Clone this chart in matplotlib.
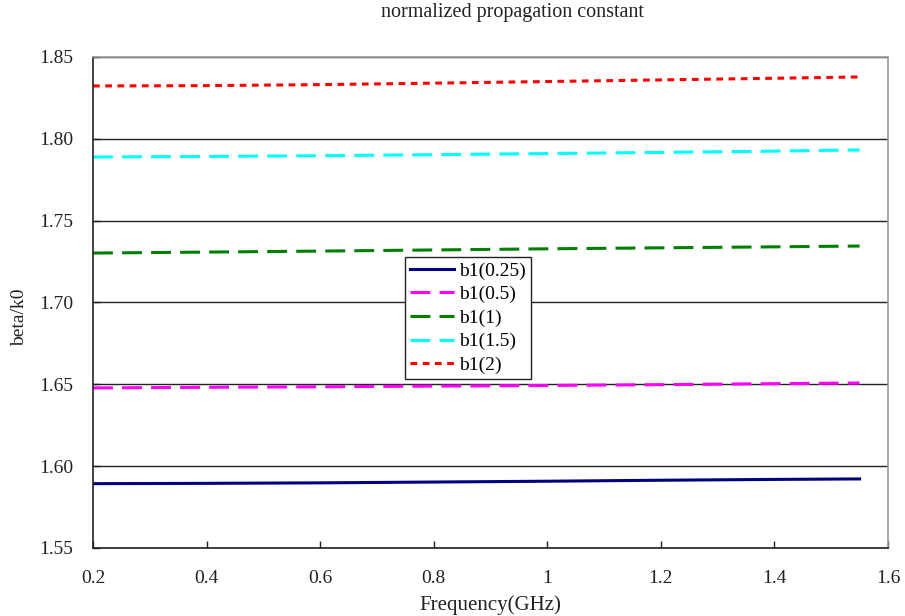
import matplotlib
matplotlib.use("Agg")
import matplotlib.pyplot as plt

plt.rcParams['font.family'] = ['Liberation Serif', 'DejaVu Serif']

freq = [0.2, 0.4, 0.6, 0.8, 1.0, 1.2, 1.4, 1.55]
b025 = [1.5893, 1.5895, 1.5898, 1.5903, 1.5908, 1.5914, 1.5919, 1.5922]
b05 = [1.6478, 1.6482, 1.6485, 1.6489, 1.6493, 1.6498, 1.6504, 1.6508]
b1 = [1.7302, 1.7308, 1.7314, 1.7321, 1.7328, 1.7334, 1.7340, 1.7345]
b15 = [1.7889, 1.7892, 1.7897, 1.7903, 1.7910, 1.7917, 1.7925, 1.7932]
b2 = [1.8323, 1.8325, 1.8331, 1.8340, 1.8350, 1.8360, 1.8370, 1.8378]

labels = ["b1(0.25)", "b1(0.5)", "b1(1)", "b1(1.5)", "b1(2)"]
xticks = [0.2, 0.4, 0.6, 0.8, 1.0, 1.2, 1.4, 1.6]
xtick_labels = ["0.2", "0.4", "0.6", "0.8", "1", "1.2", "1.4", "1.6"]
yticks = [1.55, 1.60, 1.65, 1.70, 1.75, 1.80, 1.85]

fig = plt.figure(figsize=(9.05, 6.16), dpi=100)
ax = fig.add_axes([0.1028, 0.1104, 0.8784, 0.7971])

lw = 2.2
ax.plot(freq, b025, color="#000080", lw=lw, label=labels[0])
ax.plot(freq, b05, color="#ff00ff", lw=lw, dashes=(6.5, 3), label=labels[1])
ax.plot(freq, b1, color="#008000", lw=lw, dashes=(6.5, 3), label=labels[2])
ax.plot(freq, b15, color="#00ffff", lw=lw, dashes=(6.5, 3), label=labels[3])
ax.plot(freq, b2, color="#ff0000", lw=lw, dashes=(2.2, 1.8), label=labels[4])

ax.set_xlim(0.2, 1.6)
ax.set_ylim(1.55, 1.85)
ax.set_xticks(xticks)
ax.set_xticklabels(xtick_labels)
ax.set_yticks(yticks)
ax.set_yticklabels([f"{v:.2f}" for v in yticks])
ax.yaxis.grid(True, color="#222222", lw=1.0)
ax.set_axisbelow(True)
ax.tick_params(axis="both", direction="in", length=5, width=1, labelsize=14, colors="#222222")
ax.tick_params(axis="x", pad=16)
ax.tick_params(axis="y", pad=14)

for side in ["left", "bottom"]:
    ax.spines[side].set_color("#222222")
    ax.spines[side].set_linewidth(1.2)
for side in ["right", "top"]:
    ax.spines[side].set_color("#999999")
    ax.spines[side].set_linewidth(1.2)

ax.set_xlabel("Frequency(GHz)", fontsize=15, color="#222222", labelpad=6)
ax.set_ylabel("beta/k0", fontsize=14, color="#222222")
ax.yaxis.set_label_coords(-0.082, 0.47)
fig.text(0.566, 0.98, "normalized propagation constant", ha="center", va="center", fontsize=14.5, color="#222222")

leg = ax.legend(loc="upper left", bbox_to_anchor=(0.392, 0.592), fontsize=14,
                frameon=True, fancybox=False, framealpha=1, edgecolor="#222222",
                handlelength=2.3, handletextpad=0.25, borderpad=0.25, labelspacing=0.3,
                borderaxespad=0)
leg.get_frame().set_linewidth(1.0)

fig.savefig("out.png", dpi=100)
